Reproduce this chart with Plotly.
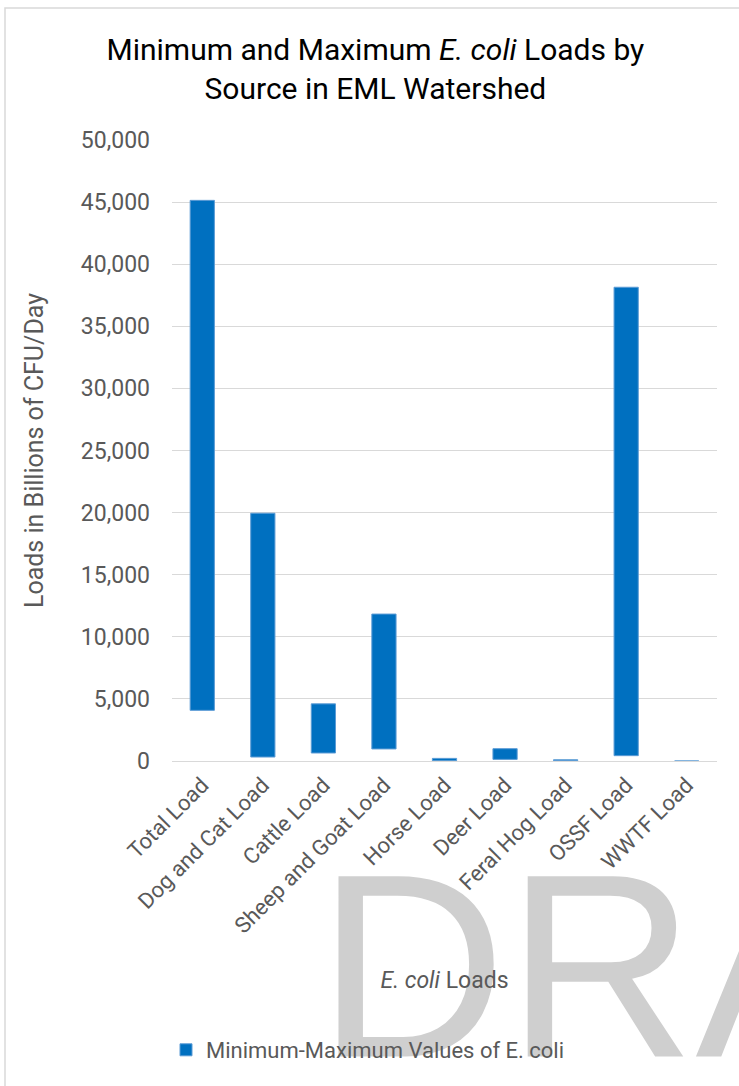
import plotly.graph_objects as go

categories = ["Total Load", "Dog and Cat Load", "Cattle Load", "Sheep and Goat Load",
              "Horse Load", "Deer Load", "Feral Hog Load", "OSSF Load", "WWTF Load"]
min_values = [4080, 320, 645, 970, 20, 130, 30, 430, 0]
max_values = [45140, 19950, 4600, 11830, 210, 990, 100, 38145, 0]
y_ticks = [0, 5000, 10000, 15000, 20000, 25000, 30000, 35000, 40000, 45000, 50000]

spans = [mx - mn for mn, mx in zip(min_values, max_values)]

W, H = 739, 1086
L, R, T, B = 172, 22, 140, 325
pw, ph = W - L - R, H - T - B

def px_x(x):
    return (x - L) / pw

def px_y(y):
    return (H - B - y) / ph

FONT = "Roboto"
GREY = "#595959"

fig = go.Figure()
fig.add_trace(go.Bar(
    x=categories, y=spans, base=min_values,
    name="Minimum-Maximum Values of E. coli",
    marker=dict(color="#0070C0", line=dict(color="#5B9BD5", width=1)),
    showlegend=True,
))

fig.update_layout(
    width=W, height=H,
    margin=dict(l=L, r=R, t=T, b=B, autoexpand=False),
    paper_bgcolor="white", plot_bgcolor="white",
    bargap=0.6,
    font=dict(family=FONT, color=GREY, size=22),
    title=dict(
        text="Minimum and Maximum <i>E. coli</i> Loads by<br>Source in EML Watershed",
        x=0.508, xref="container", xanchor="center",
        y=1 - 60 / H, yref="container", yanchor="middle",
        font=dict(family=FONT, size=30, color="#000000"),
    ),
    xaxis=dict(
        tickangle=-45, tickfont=dict(size=22, color=GREY),
        showgrid=False, showline=False, zeroline=False, ticks="",
        ticklabelstandoff=6,
        title=dict(text="<i>E. coli</i> Loads", font=dict(size=23, color=GREY), standoff=34),
    ),
    yaxis=dict(
        range=[0, 50000], tickvals=y_ticks, tickformat=",d",
        tickfont=dict(size=23, color=GREY),
        showgrid=True, gridcolor="#D9D9D9", gridwidth=1,
        zeroline=True, zerolinecolor="#D9D9D9", zerolinewidth=1,
        showline=False, ticks="", ticklabelstandoff=21,
        title=dict(text="Loads in Billions of CFU/Day", font=dict(size=25, color=GREY), standoff=30),
    ),
    legend=dict(
        orientation="h", x=px_x(166), xanchor="left", y=px_y(1050), yanchor="middle",
        font=dict(size=22, color=GREY), itemwidth=30,
        bgcolor="rgba(0,0,0,0)",
    ),
    shapes=[
        dict(type="rect", xref="paper", yref="paper",
             x0=px_x(5), x1=px_x(760), y0=px_y(1100), y1=px_y(8),
             line=dict(color="#D9D9D9", width=1.5), fillcolor="rgba(0,0,0,0)", layer="below"),
        dict(type="rect", xref="paper", yref="paper",
             x0=px_x(314), x1=px_x(1100), y0=px_y(1037), y1=px_y(845),
             line=dict(width=0), fillcolor="rgba(0,0,0,0)", layer="below",
             label=dict(text="DRAFT", textposition="middle left", padding=0,
                        font=dict(family="Liberation Sans", size=262, color="#CFCFCF"))),
    ],
)

fig.write_html("out.html")
